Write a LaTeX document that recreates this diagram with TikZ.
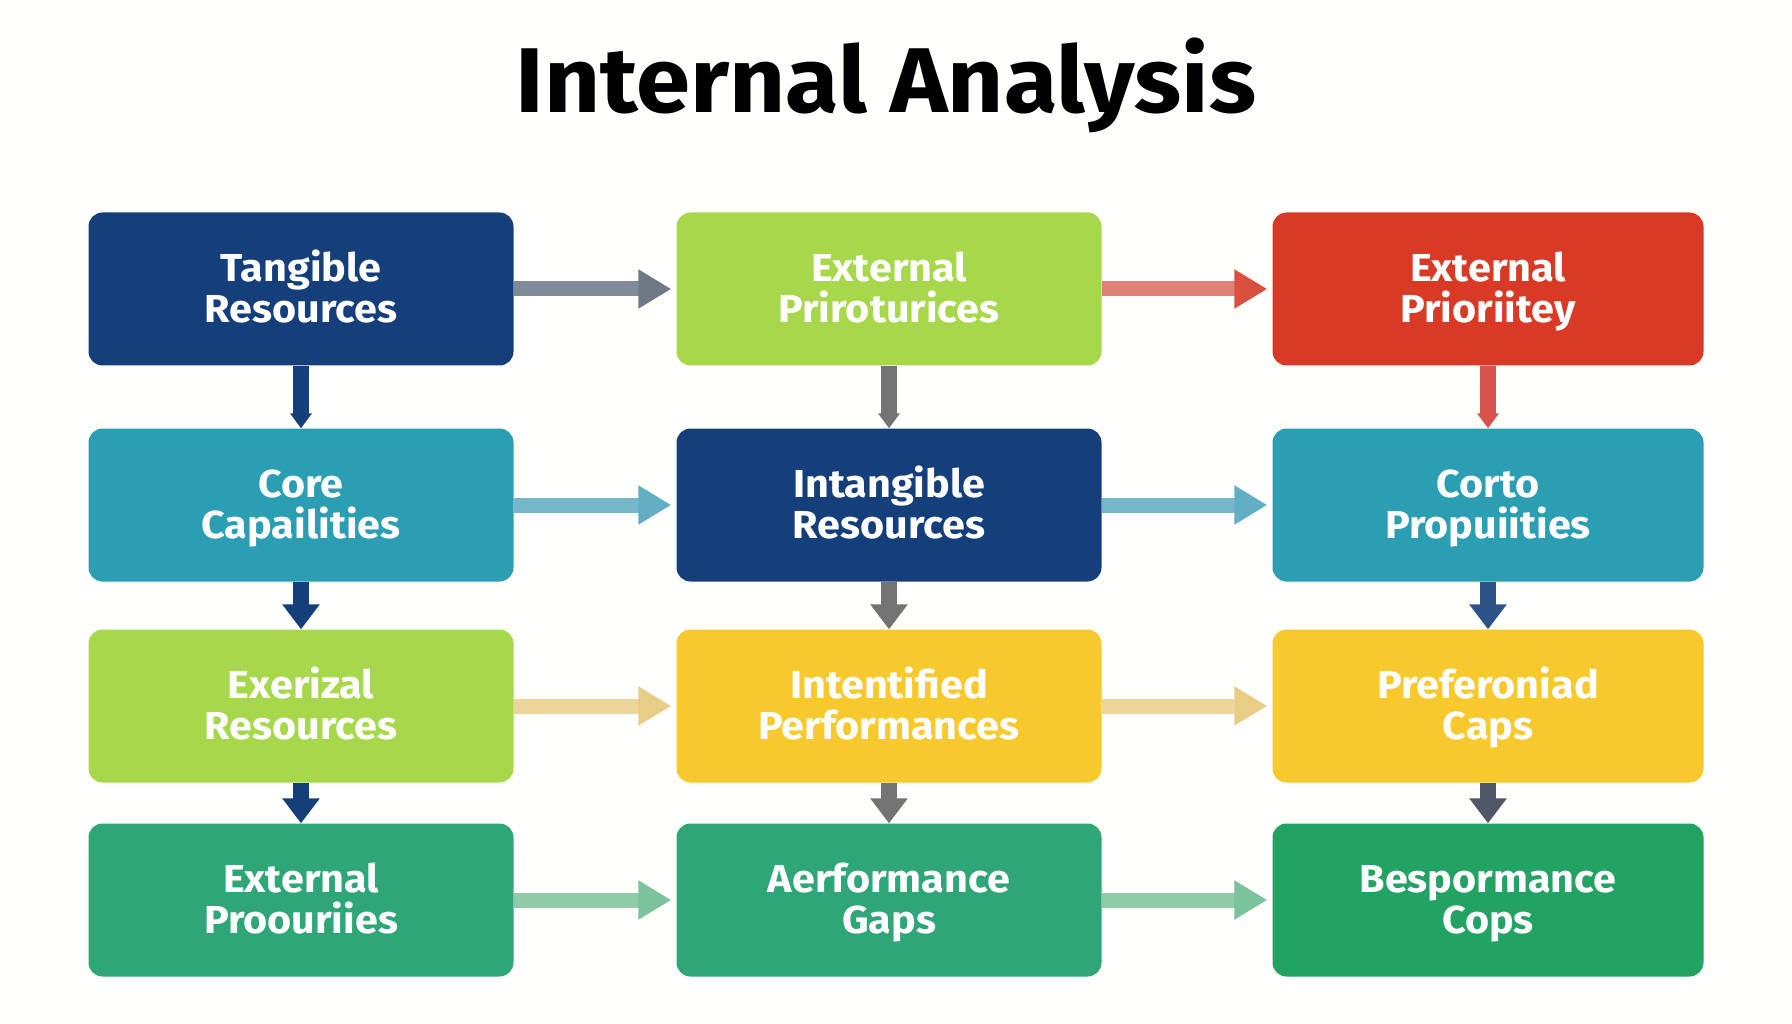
\documentclass[tikz,border=0pt]{standalone}
\usepackage{fontspec}
\setmainfont{Fira Sans}[FakeStretch=1.06]
\usetikzlibrary{arrows.meta}
\definecolor{navy}{HTML}{143F7B}
\definecolor{teal}{HTML}{2B9EB3}
\definecolor{lime}{HTML}{A7D84B}
\definecolor{brick}{HTML}{D93A26}
\definecolor{gold}{HTML}{F7C92C}
\definecolor{jade}{HTML}{2EA678}
\definecolor{jadedeep}{HTML}{22A263}
% connector colours
\definecolor{slate}{HTML}{808B99}
\definecolor{slatedark}{HTML}{6F7986}
\definecolor{salmon}{HTML}{E08275}
\definecolor{salmondark}{HTML}{D9503F}
\definecolor{skyline}{HTML}{74B6CA}
\definecolor{skyhead}{HTML}{62AEC4}
\definecolor{sand}{HTML}{EDD69C}
\definecolor{sandhead}{HTML}{E8CD86}
\definecolor{mint}{HTML}{8ECBA9}
\definecolor{minthead}{HTML}{7AC39C}
\definecolor{ash}{HTML}{737373}
\definecolor{ink}{HTML}{4F5866}
\definecolor{rose}{HTML}{D9534A}
\tikzset{
	box/.style={fill=#1, rounded corners=14pt, minimum width=425pt, minimum height=153pt,
		inner sep=0pt, text=white, align=center, text height=67pt, text depth=0pt,
		font=\bfseries\fontsize{39}{41}\selectfont},
	wide/.style={minimum width=431pt},
	flow/.style 2 args={draw=#1, line width=15pt, shorten >=5pt,
		-{Triangle[length=33pt,width=37pt,color=#2]}},
	drop/.style={draw=#1, line width=16pt, -{Triangle[length=25pt,width=36pt]}},
	dropsmall/.style={draw=#1, line width=16pt, -{Triangle[length=15pt,width=21pt]}}
}
\begin{document}
\begin{tikzpicture}[x=1pt,y=-1pt]
	\fill[white!99!yellow] (0,0) rectangle (1792,1024);
	\useasboundingbox (0,0) rectangle (1792,1024);
	% title
	\node[anchor=base, font=\bfseries\fontsize{92}{100}\selectfont] (title) at (886,113) {Internal Analysis};
	% first column
	\node[box=navy] (tangible) at (301,289) {Tangible\\Resources};
	\node[box=teal] (core) at (301,505) {Core\\Capailities};
	\node[box=lime] (exerizal) at (301,706) {Exerizal\\Resources};
	\node[box=jade] (proouriies) at (301,900) {External\\Proouriies};
	% second column
	\node[box=lime] (extprior) at (889,289) {External\\Priroturices};
	\node[box=navy] (intangible) at (889,505) {Intangible\\Resources};
	\node[box=gold] (intentified) at (889,706) {Intentified\\Performances};
	\node[box=jade] (aerformance) at (889,900) {Aerformance\\Gaps};
	% third column
	\node[box=brick, wide] (prioritey) at (1488,289) {External\\Prioriitey};
	\node[box=teal, wide] (corto) at (1488,505) {Corto\\Propuiities};
	\node[box=gold, wide] (preferoniad) at (1488,706) {Preferoniad\\Caps};
	\node[box=jadedeep, wide] (bespormance) at (1488,900) {Bespormance\\Cops};
	% across
	\draw[flow={slate}{slatedark}] (tangible) -- (extprior);
	\draw[flow={salmon}{salmondark}] (extprior) -- (prioritey);
	\draw[flow={skyline}{skyhead}] (core) -- (intangible);
	\draw[flow={skyline}{skyhead}] (intangible) -- (corto);
	\draw[flow={sand}{sandhead}] (exerizal) -- (intentified);
	\draw[flow={sand}{sandhead}] (intentified) -- (preferoniad);
	\draw[flow={mint}{minthead}] (proouriies) -- (aerformance);
	\draw[flow={mint}{minthead}] (aerformance) -- (bespormance);
	% down
	\draw[dropsmall=navy] (tangible) -- (core);
	\draw[drop=navy] (core) -- (exerizal);
	\draw[drop=navy] (exerizal) -- (proouriies);
	\draw[dropsmall=ash] (extprior) -- (intangible);
	\draw[drop=ash] (intangible) -- (intentified);
	\draw[drop=ash] (intentified) -- (aerformance);
	\draw[dropsmall=rose] (prioritey) -- (corto);
	\draw[drop=navy!90!white] (corto) -- (preferoniad);
	\draw[drop=ink] (preferoniad) -- (bespormance);
\end{tikzpicture}
\end{document}
